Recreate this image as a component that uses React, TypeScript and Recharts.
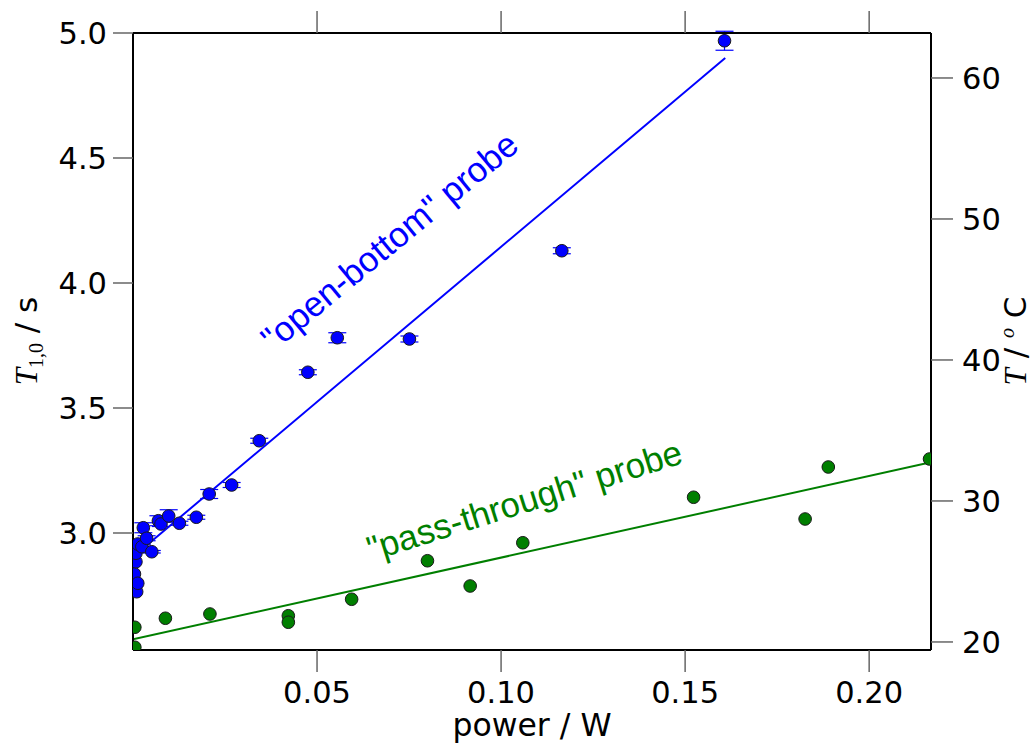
import React from 'react';
import { ComposedChart, Scatter, Line, XAxis, YAxis, ErrorBar, ReferenceDot } from 'recharts';

// "open-bottom" probe: power (W), T1,0 (s), error (s)
const openPower = [0.0004, 0.0008, 0.0008, 0.0010, 0.0013, 0.0013, 0.0024, 0.0028, 0.0037, 0.0051, 0.0069, 0.0076, 0.0097, 0.0126, 0.0172, 0.0207, 0.0268, 0.0343, 0.0475, 0.0555, 0.0751, 0.1165, 0.1607];
const openT1 = [2.836, 2.885, 2.919, 2.765, 2.799, 2.956, 2.945, 3.021, 2.979, 2.925, 3.049, 3.036, 3.068, 3.039, 3.063, 3.156, 3.192, 3.369, 3.643, 3.781, 3.776, 4.129, 4.969];
const openErr = [null, null, null, null, null, null, 0.008, 0.02, 0.01, 0.005, 0.02, 0.01, 0.025, 0.008, 0.008, 0.018, 0.01, 0.01, 0.01, 0.02, 0.012, 0.012, 0.038];

// "pass-through" probe
const passPower = [0.0005, 0.0005, 0.0088, 0.0209, 0.0422, 0.0422, 0.0594, 0.0800, 0.0916, 0.1059, 0.1523, 0.1826, 0.1889, 0.2164];
const passT1 = [2.623, 2.543, 2.659, 2.676, 2.669, 2.643, 2.735, 2.889, 2.788, 2.961, 3.143, 3.056, 3.264, 3.296];

// linear fits
const openFitPower = [0.0019, 0.1609];
const openFitT1 = [2.928, 4.90];
const passFitPower = [0, 0.2168];
const passFitT1 = [2.575, 3.283];

const powerTicks = [0.05, 0.10, 0.15, 0.20];
const t1Ticks = [3.0, 3.5, 4.0, 4.5, 5.0];
const tempTicks = [20, 30, 40, 50, 60];

const openData = openPower.map((x, i) => ({ x, y: openT1[i], err: openErr[i] }));
const passData = passPower.map((x, i) => ({ x, y: passT1[i] }));
const openFit = openFitPower.map((x, i) => ({ x, y: openFitT1[i] }));
const passFit = passFitPower.map((x, i) => ({ x, y: passFitT1[i] }));

const BLUE = '#0000ff';
const GREEN = '#007f00';
const TICK_FONT = { fontSize: 30.5, fontFamily: 'DejaVu Sans', fill: '#000' };
const axisLine = { stroke: '#000', strokeWidth: 2 };
const tickLine = { stroke: '#666', strokeWidth: 1.5 };

const dotShape = (fill: string) => (p: any) => (
  <circle cx={p.cx} cy={p.cy} r={6.3} fill={fill} stroke="#1a1a1a" strokeWidth={1} />
);

const NoTick = () => <g />;

const rotatedNote = (text: string, color: string, angle: number) => (p: any) => {
  const vb = p.viewBox || {};
  const cx = vb.x + (vb.width || 0) / 2;
  const cy = vb.y + (vb.height || 0) / 2;
  return (
    <text x={cx} y={cy} transform={`rotate(${angle} ${cx} ${cy})`} textAnchor="middle" dominantBaseline="central"
      fontSize={35} fontFamily="Liberation Sans" fill={color}>
      {text}
    </text>
  );
};

const LeftLabel = () => (
  <text x={37} y={341} transform="rotate(-90 37 341)" textAnchor="middle" fontSize={31} fontFamily="DejaVu Sans" fill="#000">
    <tspan fontFamily="Liberation Serif" fontStyle="italic">T</tspan>
    <tspan fontFamily="Liberation Serif" fontSize={20} dy={6}>1,0</tspan>
    <tspan dy={-6}>{' / s'}</tspan>
  </text>
);

const RightLabel = () => (
  <text x={1026} y={341} transform="rotate(-90 1026 341)" textAnchor="middle" fontSize={31} fontFamily="DejaVu Sans" fill="#000">
    <tspan fontFamily="Liberation Serif" fontStyle="italic">T</tspan>
    <tspan>{' / '}</tspan>
    <tspan fontFamily="Liberation Serif" fontStyle="italic" fontSize={20} dy={-12}>o</tspan>
    <tspan dy={12}>{' C'}</tspan>
  </text>
);

const BottomLabel = (p: any) => {
  const vb = p.viewBox || {};
  return (
    <text x={vb.x + vb.width / 2} y={736} textAnchor="middle" fontSize={31.5} fontFamily="DejaVu Sans" fill="#000">
      power / W
    </text>
  );
};

export default function App() {
  return (
    <div style={{ position: 'absolute', left: 0, top: 0, background: '#fff' }}>
      <ComposedChart width={1033} height={743} margin={{ top: 3, right: 22, bottom: 33, left: 33 }}>
        <XAxis xAxisId="bottom" type="number" dataKey="x" domain={[0, 0.2168]} allowDataOverflow
          ticks={powerTicks} tickFormatter={(v: number) => v.toFixed(2)} height={60}
          tick={TICK_FONT} tickSize={22} tickMargin={9} axisLine={axisLine} tickLine={tickLine}
          label={{ content: BottomLabel }} />
        <XAxis xAxisId="top" orientation="top" type="number" dataKey="x" domain={[0, 0.2168]} allowDataOverflow
          ticks={powerTicks} height={30} tick={NoTick} tickSize={22} axisLine={axisLine} tickLine={tickLine} />
        <YAxis yAxisId="left" type="number" dataKey="y" domain={[2.532, 5.0]} allowDataOverflow
          ticks={t1Ticks} tickFormatter={(v: number) => v.toFixed(1)} width={100}
          tick={TICK_FONT} tickSize={20} tickMargin={6} axisLine={axisLine} tickLine={tickLine}
          label={{ content: LeftLabel }} />
        <YAxis yAxisId="right" orientation="right" type="number" domain={[19.43, 63.19]} allowDataOverflow
          ticks={tempTicks} width={80}
          tick={TICK_FONT} tickSize={22} tickMargin={9} axisLine={axisLine} tickLine={tickLine}
          label={{ content: RightLabel }} />

        <Line xAxisId="bottom" yAxisId="left" data={openFit} dataKey="y" type="linear" stroke={BLUE} strokeWidth={2}
          dot={false} activeDot={false} isAnimationActive={false} />
        <Line xAxisId="bottom" yAxisId="left" data={passFit} dataKey="y" type="linear" stroke={GREEN} strokeWidth={2}
          dot={false} activeDot={false} isAnimationActive={false} />

        <Scatter xAxisId="bottom" yAxisId="left" data={passData} dataKey="y" shape={dotShape(GREEN)} isAnimationActive={false} />
        <Scatter xAxisId="bottom" yAxisId="left" data={openData} dataKey="y" shape={dotShape(BLUE)} isAnimationActive={false}>
          <ErrorBar dataKey="err" direction="y" width={9} stroke={BLUE} strokeWidth={1.2} />
        </Scatter>

        <ReferenceDot xAxisId="bottom" yAxisId="left" x={0.0696} y={4.168} r={0} stroke="none"
          label={{ content: rotatedNote('"open-bottom" probe', BLUE, -39.5) }} />
        <ReferenceDot xAxisId="bottom" yAxisId="left" x={0.1063} y={3.132} r={0} stroke="none"
          label={{ content: rotatedNote('"pass-through" probe', GREEN, -17.5) }} />
      </ComposedChart>
    </div>
  );
}
